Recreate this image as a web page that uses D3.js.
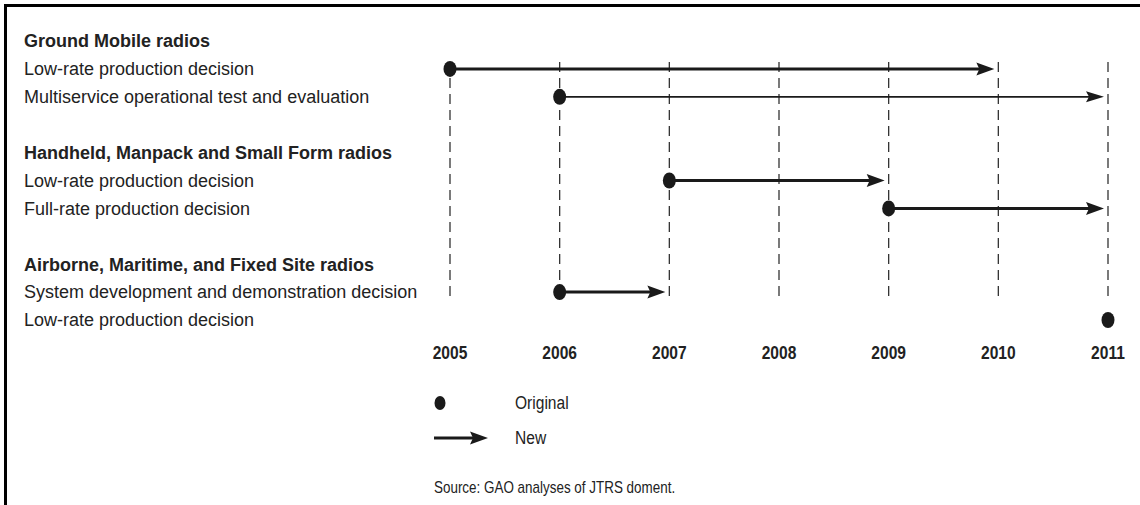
<!DOCTYPE html>
<html>
<head>
<meta charset="utf-8">
<script src="https://cdn.jsdelivr.net/npm/d3@7"></script>
<style>
  body { margin: 0; background: #fff; }
  text { fill: #222; font-family: 'Liberation Sans', Arial, sans-serif; }
</style>
</head>
<body>
<svg id="timeline"></svg>
<script>
const width = 1140, height = 505;

// Data
const years = [2005, 2006, 2007, 2008, 2009, 2010, 2011];
const groups = ["Ground Mobile radios", "Handheld, Manpack and Small Form radios", "Airborne, Maritime, and Fixed Site radios"];
const milestones = [
    "Low-rate production decision",
    "Multiservice operational test and evaluation",
    "Low-rate production decision",
    "Full-rate production decision",
    "System development and demonstration decision",
    "Low-rate production decision"
];
const milestoneGroup = [0, 0, 1, 1, 2, 2];
const originalYear = [2005, 2006, 2007, 2009, 2006, 2011];
const newYear = [2010, 2011, 2009, 2011, 2007, null];
const legendLabels = ["Original", "New"];
const sourceText = "Source: GAO analyses of JTRS doment.";

const svg = d3.select("#timeline")
    .attr("width", width)
    .attr("height", height);

// frame: top and left edge only
svg.append("path")
    .attr("d", `M5.5,${height} V5.5 H${width}`)
    .attr("fill", "none")
    .attr("stroke", "#000")
    .attr("stroke-width", 3);

const x = d3.scaleLinear().domain([2005, 2011]).range([450, 1108]);
// 11 text lines: title, 2 rows, blank, per group
const y = d3.scaleLinear().domain([0, 10]).range([41, 320]);

const rows = milestones.map((name, i) => {
    const g = milestoneGroup[i];
    const within = milestoneGroup.slice(0, i).filter(v => v === g).length;
    return { i, name, g, line: g * 4 + 1 + within, from: originalYear[i], to: newYear[i] };
});

// year gridlines
svg.append("g").selectAll("line")
    .data(years)
    .enter().append("line")
    .attr("x1", d => x(d)).attr("x2", d => x(d))
    .attr("y1", 62).attr("y2", 296)
    .attr("stroke", "#333")
    .attr("stroke-width", 1.3)
    .attr("stroke-dasharray", "10,6");

// year labels (narrowed, the original uses a condensed face)
svg.append("g").selectAll("text")
    .data(years)
    .enter().append("text")
    .attr("transform", d => `translate(${x(d)},352) scale(0.82,1)`)
    .attr("dy", "0.35em")
    .attr("text-anchor", "middle")
    .style("font-weight", "bold")
    .style("font-size", "19px")
    .text(d => d);

// left labels
svg.append("g").selectAll("text.group")
    .data(groups)
    .enter().append("text")
    .attr("class", "group")
    .attr("x", 24)
    .attr("y", (d, i) => y(i * 4))
    .attr("dy", "0.35em")
    .style("font-weight", "bold")
    .style("font-size", "18px")
    .text(d => d);

svg.append("g").selectAll("text.row")
    .data(rows)
    .enter().append("text")
    .attr("class", "row")
    .attr("x", 24)
    .attr("y", d => y(d.line))
    .attr("dy", "0.35em")
    .style("font-size", "18px")
    .text(d => d.name);

// arrows (new dates)
function arrowHead(tipX, cy, len, half) {
    return `M${tipX},${cy} L${tipX - len},${cy - half} L${tipX - len + 3},${cy} L${tipX - len},${cy + half} Z`;
}

const moved = rows.filter(d => d.to !== null);
const marks = svg.append("g");

marks.selectAll("line.shift")
    .data(moved)
    .enter().append("line")
    .attr("class", "shift")
    .attr("x1", d => x(d.from))
    .attr("x2", d => x(d.to) - 16)
    .attr("y1", d => y(d.line)).attr("y2", d => y(d.line))
    .attr("stroke", "#1a1a1a")
    .attr("stroke-width", d => d.i === 1 ? 1.8 : 3);

marks.selectAll("path.head")
    .data(moved)
    .enter().append("path")
    .attr("class", "head")
    .attr("d", d => arrowHead(x(d.to) - 4, y(d.line), 18, d.i === 1 ? 5.5 : 6.5))
    .attr("fill", "#1a1a1a");

// dots (original dates)
marks.selectAll("ellipse")
    .data(rows)
    .enter().append("ellipse")
    .attr("cx", d => x(d.from))
    .attr("cy", d => y(d.line))
    .attr("rx", 6.5)
    .attr("ry", 8)
    .attr("fill", "#1a1a1a");

// legend
const legend = svg.append("g");
legend.append("ellipse")
    .attr("cx", 440).attr("cy", 403)
    .attr("rx", 5.5).attr("ry", 7)
    .attr("fill", "#1a1a1a");
legend.append("line")
    .attr("x1", 434).attr("x2", 474)
    .attr("y1", 438).attr("y2", 438)
    .attr("stroke", "#1a1a1a")
    .attr("stroke-width", 3);
legend.append("path")
    .attr("d", arrowHead(488, 438, 18, 6.5))
    .attr("fill", "#1a1a1a");

legend.selectAll("text")
    .data(legendLabels)
    .enter().append("text")
    .attr("transform", (d, i) => `translate(515,${402 + i * 35}) scale(0.82,1)`)
    .attr("dy", "0.35em")
    .style("font-size", "19px")
    .text(d => d);

svg.append("text")
    .attr("transform", "translate(434,487) scale(0.84,1)")
    .attr("dy", "0.35em")
    .style("font-size", "16px")
    .text(sourceText);
</script>
</body>
</html>
